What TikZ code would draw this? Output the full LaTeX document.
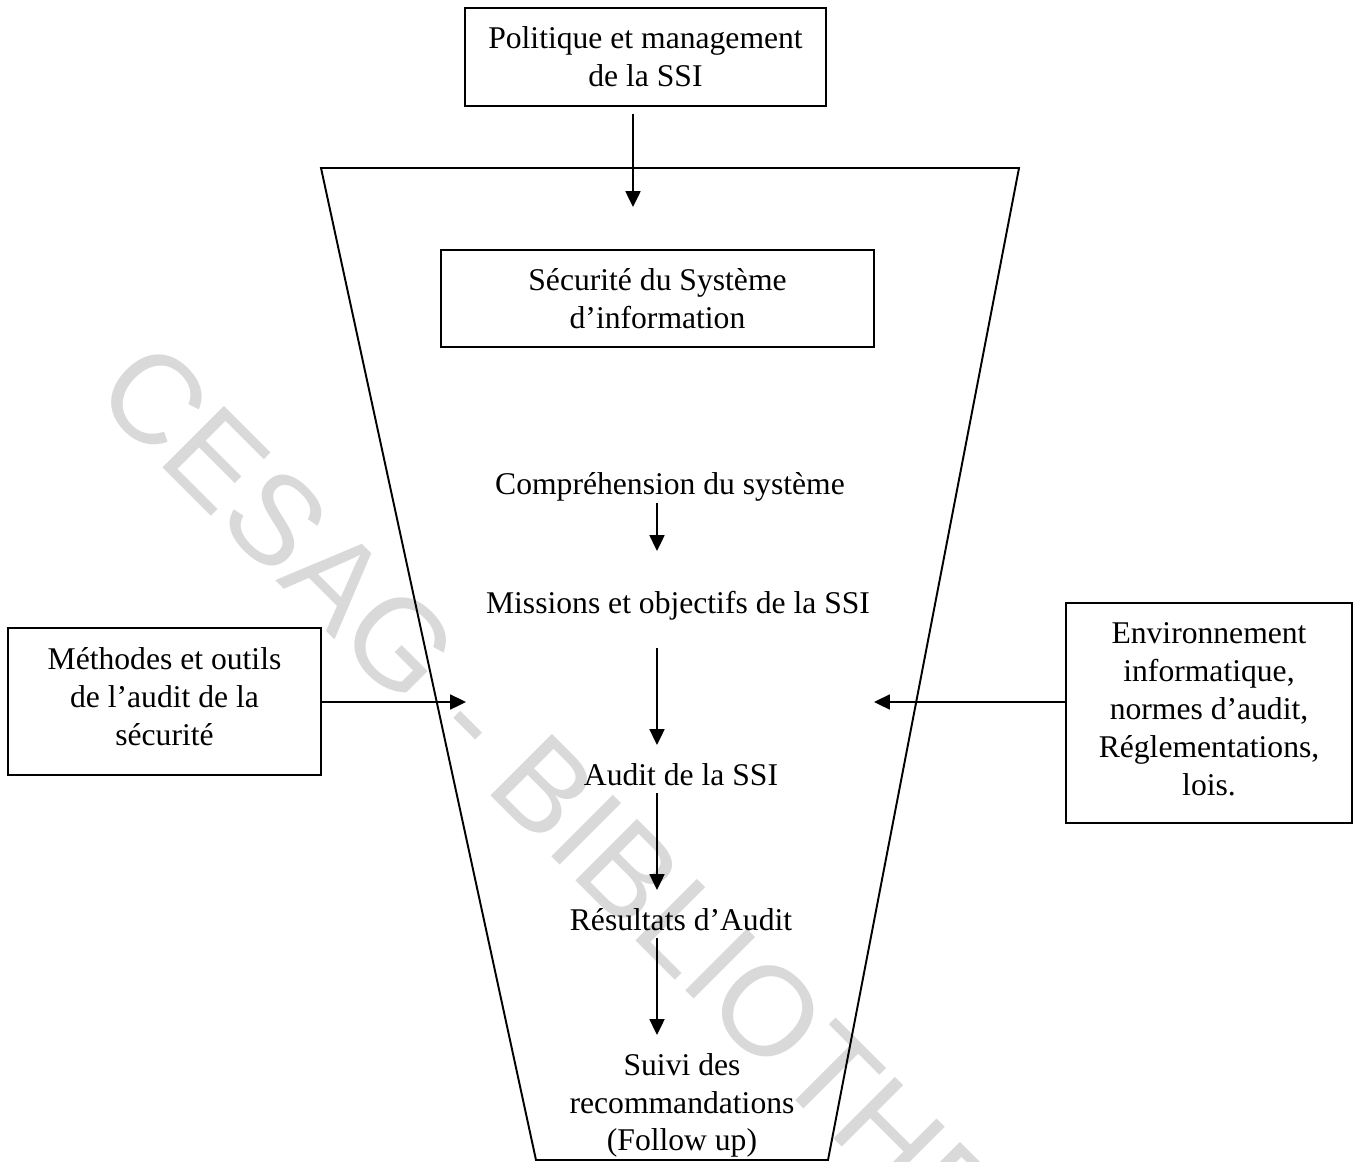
\documentclass[tikz,border=0pt]{standalone}
\usepackage{fontspec}
\setmainfont{Liberation Serif}
\newfontfamily\wmfont{Liberation Sans}
\usetikzlibrary{arrows.meta,calc}

\newcommand\dfont{\fontsize{18pt}{21.5pt}\selectfont}
% invisible rule that adds depth below the last line of a box
\newcommand\lowpad[1]{\rule[-#1]{0pt}{#1}}

\tikzset{
  lbl/.style={font=\dfont, inner sep=0pt, align=center},
  boxed/.style={draw, line width=1.1pt, font=\dfont, align=center, inner sep=0pt},
  arr/.style={line width=1.1pt, -{Triangle[length=9pt,width=8.5pt]}},
  funnel/.style={line width=1.1pt, line join=miter},
  stamp/.style={rotate=-45, anchor=base west, inner sep=0pt, text=black!15,
                font={\wmfont\fontsize{72pt}{86pt}\selectfont}},
}

\begin{document}
\begin{tikzpicture}[x=0.02cm, y=-0.02cm]
  \useasboundingbox (0,0) rectangle (1358,1162);

  % library stamp behind the drawing
  \begin{scope}
    \clip (0,0) rectangle (1358,1162);
    \node[stamp] (wm) at (91,396) {CESAG - BIBLIOTHEQUE};
  \end{scope}

  % funnel outline
  \coordinate (ftl) at (321,168);
  \coordinate (ftr) at (1019,168);
  \coordinate (fbr) at (828,1160);
  \coordinate (fbl) at (536,1160);
  \draw[funnel] (ftl) -- (ftr) -- (fbr) -- (fbl) -- cycle;

  % boxes
  \node[boxed, minimum width=7.22cm, minimum height=1.96cm] (pol) at (645.5,57)
    {Politique et management\\de la SSI};
  \node[boxed, minimum width=8.66cm, minimum height=1.94cm] (sec) at (657.5,298.5)
    {Sécurité du Système\\d’information};
  \node[boxed, minimum width=6.26cm, minimum height=2.94cm] (meth) at (164.5,701.5)
    {Méthodes et outils\\de l’audit de la\\sécurité\lowpad{5.7pt}};
  \node[boxed, minimum width=5.72cm, minimum height=4.4cm] (env) at (1209,713)
    {Environnement\\informatique,\\normes d’audit,\\Réglementations,\\lois.\lowpad{4.5pt}};

  % steps inside the funnel
  \node[lbl, anchor=base] (comp)  at (670,494) {Compréhension du système};
  \node[lbl, anchor=base] (miss)  at (678,613) {Missions et objectifs de la SSI};
  \node[lbl, anchor=base] (audit) at (681,785) {Audit de la SSI};
  \node[lbl, anchor=base] (res)   at (681,930) {Résultats d’Audit};
  \node[lbl, anchor=north] (suivi) at (682,1053) {Suivi des\\recommandations\\(Follow up)};

  % arrow axes and free ends
  \coordinate (topaxis) at (633,0);
  \coordinate (axis) at (657,0);
  \coordinate (inL) at (466,702);
  \coordinate (inR) at (874,702);

  % connectors
  \draw[arr] ($(pol.south -| topaxis)+(0,7)$) -- ($(sec.north -| topaxis)+(0,-42)$);
  \draw[arr] ($(comp.base -| axis)+(0,9)$) -- ($(miss.base -| axis)+(0,-62)$);
  \draw[arr] ($(miss.base -| axis)+(0,35)$) -- ($(audit.base -| axis)+(0,-40)$);
  \draw[arr] ($(audit.base -| axis)+(0,8)$) -- ($(res.base -| axis)+(0,-40)$);
  \draw[arr] ($(res.base -| axis)+(0,8)$) -- ($(suivi.north -| axis)+(0,-18)$);
  \draw[arr] (meth.east |- inL) -- (inL);
  \draw[arr] (env.west |- inR) -- (inR);
\end{tikzpicture}
\end{document}
